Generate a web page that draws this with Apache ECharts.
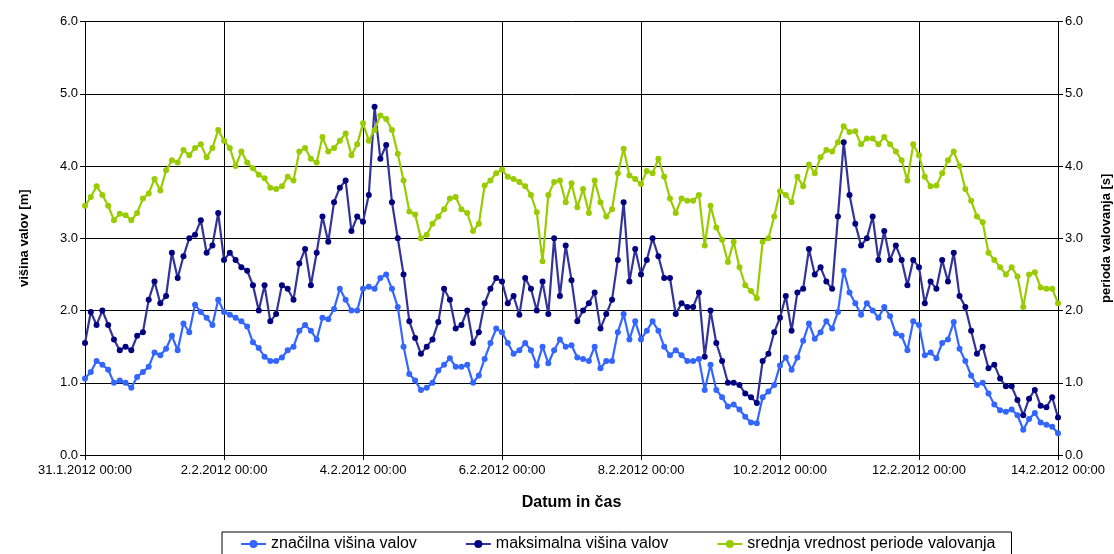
<!DOCTYPE html>
<html>
<head>
<meta charset="utf-8">
<title>Višina valov in perioda valovanja</title>
<script src="https://cdn.jsdelivr.net/npm/echarts@6/dist/echarts.min.js"></script>
<style>
  html, body { margin: 0; padding: 0; background: #fff; }
  #chart { width: 1114px; height: 554px; }
</style>
</head>
<body>
<div id="chart"></div>
<script>
// Measurements every 2 hours, from 31.1.2012 00:00 to 14.2.2012 00:00 (one row per day)
const STEP_HOURS = 2;

const tickLabels = [
  '31.1.2012 00:00', '2.2.2012 00:00', '4.2.2012 00:00', '6.2.2012 00:00',
  '8.2.2012 00:00', '10.2.2012 00:00', '12.2.2012 00:00', '14.2.2012 00:00'
];

const seriesNames = [
  'značilna višina valov',
  'maksimalna višina valov',
  'srednja vrednost periode valovanja'
];

// značilna višina valov [m]
const znacilnaVisina = [
  1.06,1.15,1.30,1.25,1.18,1.00,1.03,1.00,0.93,1.08,1.15,1.22,
  1.42,1.38,1.47,1.65,1.45,1.82,1.70,2.08,1.98,1.90,1.80,2.15,
  1.98,1.94,1.90,1.85,1.78,1.56,1.48,1.36,1.30,1.30,1.35,1.45,
  1.50,1.72,1.80,1.72,1.60,1.90,1.88,2.02,2.30,2.15,2.00,2.00,
  2.30,2.33,2.30,2.45,2.50,2.30,2.05,1.50,1.12,1.03,0.90,0.93,
  1.00,1.17,1.25,1.34,1.22,1.22,1.25,1.00,1.10,1.33,1.55,1.75,
  1.70,1.55,1.40,1.45,1.55,1.45,1.24,1.50,1.27,1.45,1.60,1.50,
  1.52,1.35,1.33,1.30,1.50,1.20,1.30,1.30,1.70,1.95,1.60,1.85,
  1.60,1.72,1.85,1.72,1.50,1.38,1.45,1.38,1.30,1.30,1.33,0.90,
  1.25,0.90,0.80,0.67,0.70,0.63,0.53,0.45,0.44,0.80,0.88,0.97,
  1.24,1.35,1.18,1.35,1.58,1.82,1.61,1.70,1.85,1.75,1.98,2.55,
  2.25,2.10,1.94,2.10,2.00,1.90,2.05,1.92,1.68,1.65,1.45,1.85,
  1.80,1.38,1.42,1.34,1.55,1.60,1.84,1.47,1.30,1.10,0.97,1.00,
  0.85,0.70,0.62,0.60,0.63,0.55,0.35,0.50,0.58,0.45,0.42,0.39,
  0.30
];

// maksimalna višina valov [m]
const maksimalnaVisina = [
  1.55,1.98,1.80,2.00,1.80,1.60,1.45,1.50,1.45,1.65,1.70,2.15,
  2.40,2.10,2.20,2.80,2.45,2.75,3.00,3.05,3.25,2.80,2.90,3.35,
  2.70,2.80,2.70,2.60,2.55,2.35,2.00,2.35,1.85,1.95,2.35,2.30,
  2.15,2.65,2.85,2.35,2.80,3.30,2.95,3.50,3.70,3.80,3.10,3.30,
  3.23,3.60,4.82,4.10,4.29,3.50,3.00,2.50,1.85,1.62,1.40,1.50,
  1.60,1.84,2.30,2.15,1.75,1.80,2.00,1.55,1.70,2.10,2.30,2.45,
  2.40,2.10,2.20,1.94,2.45,2.30,2.00,2.40,1.95,3.00,2.20,2.90,
  2.42,1.85,2.00,2.10,2.25,1.75,1.95,2.15,2.70,3.50,2.40,2.85,
  2.50,2.70,3.00,2.75,2.45,2.45,1.95,2.10,2.05,2.05,2.25,1.36,
  2.00,1.55,1.30,1.00,1.00,0.97,0.85,0.80,0.72,1.30,1.40,1.70,
  1.90,2.20,1.72,2.25,2.30,2.85,2.50,2.60,2.40,2.30,3.30,4.33,
  3.60,3.20,2.90,3.00,3.30,2.70,3.10,2.70,2.90,2.70,2.35,2.70,
  2.60,2.10,2.40,2.30,2.70,2.40,2.80,2.20,2.05,1.72,1.40,1.50,
  1.20,1.25,1.06,0.95,0.95,0.76,0.55,0.78,0.90,0.68,0.66,0.80,
  0.52
];

// srednja vrednost periode valovanja [s]
const perioda = [
  3.45,3.57,3.72,3.60,3.45,3.25,3.34,3.32,3.25,3.35,3.55,3.62,
  3.82,3.66,3.94,4.08,4.05,4.22,4.15,4.25,4.30,4.12,4.25,4.50,
  4.35,4.25,4.00,4.20,4.05,3.97,3.88,3.83,3.70,3.68,3.72,3.85,
  3.80,4.20,4.25,4.10,4.05,4.40,4.20,4.25,4.35,4.45,4.15,4.30,
  4.59,4.35,4.50,4.70,4.65,4.50,4.17,3.80,3.37,3.33,3.00,3.05,
  3.20,3.30,3.40,3.55,3.57,3.40,3.35,3.10,3.20,3.73,3.80,3.90,
  3.95,3.85,3.82,3.78,3.72,3.60,3.36,2.68,3.60,3.78,3.80,3.50,
  3.76,3.43,3.68,3.35,3.80,3.50,3.30,3.40,3.90,4.24,3.87,3.82,
  3.75,3.93,3.90,4.10,3.85,3.55,3.35,3.55,3.52,3.52,3.60,2.90,
  3.45,3.15,2.98,2.67,2.95,2.60,2.35,2.27,2.17,2.95,3.00,3.30,
  3.65,3.60,3.50,3.85,3.72,4.02,3.90,4.12,4.22,4.20,4.33,4.55,
  4.47,4.48,4.30,4.38,4.38,4.30,4.40,4.30,4.20,4.08,3.80,4.30,
  4.15,3.85,3.72,3.73,3.90,4.08,4.20,4.00,3.68,3.52,3.30,3.22,
  2.80,2.70,2.60,2.50,2.60,2.47,2.05,2.50,2.53,2.32,2.30,2.30,
  2.10
];

// [hours since start, value] pairs for the value x-axis
const toPoints = arr => arr.map((v, i) => [i * STEP_HOURS, v]);

const FONT = '"Liberation Sans", Arial, sans-serif';
const HOURS_PER_TICK = 48;
const totalHours = (tickLabels.length - 1) * HOURS_PER_TICK;

function lineSeries(name, data, lineColor, dotColor, yAxisIndex) {
  return {
    name: name,
    type: 'line',
    yAxisIndex: yAxisIndex,
    data: toPoints(data),
    symbol: 'circle',
    symbolSize: 6,
    showSymbol: true,
    lineStyle: { color: lineColor, width: 2.2 },
    itemStyle: { color: dotColor },
    emphasis: { disabled: true },
    animation: false
  };
}

const yAxisCommon = {
  type: 'value',
  min: 0,
  max: 6,
  interval: 1,
  axisLine: { show: true, lineStyle: { color: '#000', width: 1 } },
  axisTick: { show: true, inside: false, length: 5, lineStyle: { color: '#000' } },
  axisLabel: {
    color: '#000', fontFamily: FONT, fontSize: 13, margin: 7,
    formatter: v => v.toFixed(1)
  },
  nameLocation: 'middle',
  nameRotate: 90,
  nameTextStyle: { color: '#000', fontFamily: FONT, fontSize: 13, fontWeight: 'bold' }
};

const chart = echarts.init(document.getElementById('chart'), null, { renderer: 'canvas' });

chart.setOption({
  backgroundColor: '#fff',
  animation: false,
  grid: {
    left: 85, right: 56, top: 21.5, bottom: 99,
    containLabel: false,
    outerBoundsMode: 'none'
  },
  xAxis: {
    type: 'value',
    min: 0,
    max: totalHours,
    interval: HOURS_PER_TICK,
    axisLine: { show: true, onZero: false, lineStyle: { color: '#000', width: 1 } },
    axisTick: { show: true, length: 5, lineStyle: { color: '#000' } },
    splitLine: { show: true, lineStyle: { color: '#000', width: 1 } },
    axisLabel: {
      color: '#000', fontFamily: FONT, fontSize: 13, margin: 9,
      showMinLabel: true, showMaxLabel: true,
      formatter: v => tickLabels[Math.round(v / HOURS_PER_TICK)]
    },
    name: 'Datum in čas',
    nameLocation: 'middle',
    nameGap: 40,
    nameTextStyle: { color: '#000', fontFamily: FONT, fontSize: 16, fontWeight: 'bold' }
  },
  yAxis: [
    Object.assign({}, yAxisCommon, {
      position: 'left',
      name: 'višina valov [m]',
      nameGap: 54,
      splitLine: { show: true, lineStyle: { color: '#000', width: 1 } }
    }),
    Object.assign({}, yAxisCommon, {
      position: 'right',
      name: 'perioda valovanja [s]',
      nameGap: 42,
      splitLine: { show: false }
    })
  ],
  legend: {
    data: seriesNames,
    left: 222,
    top: 532,
    orient: 'horizontal',
    padding: [4, 16, 10, 18],
    itemGap: 48,
    itemWidth: 25,
    itemHeight: 10,
    borderColor: '#000',
    borderWidth: 1,
    textStyle: { color: '#000', fontFamily: FONT, fontSize: 16 }
  },
  series: [
    lineSeries(seriesNames[0], znacilnaVisina, '#3366ff', '#3366ff', 0),
    lineSeries(seriesNames[1], maksimalnaVisina, '#333399', '#000080', 0),
    lineSeries(seriesNames[2], perioda, '#99cc00', '#99cc00', 1)
  ]
});
</script>
</body>
</html>
